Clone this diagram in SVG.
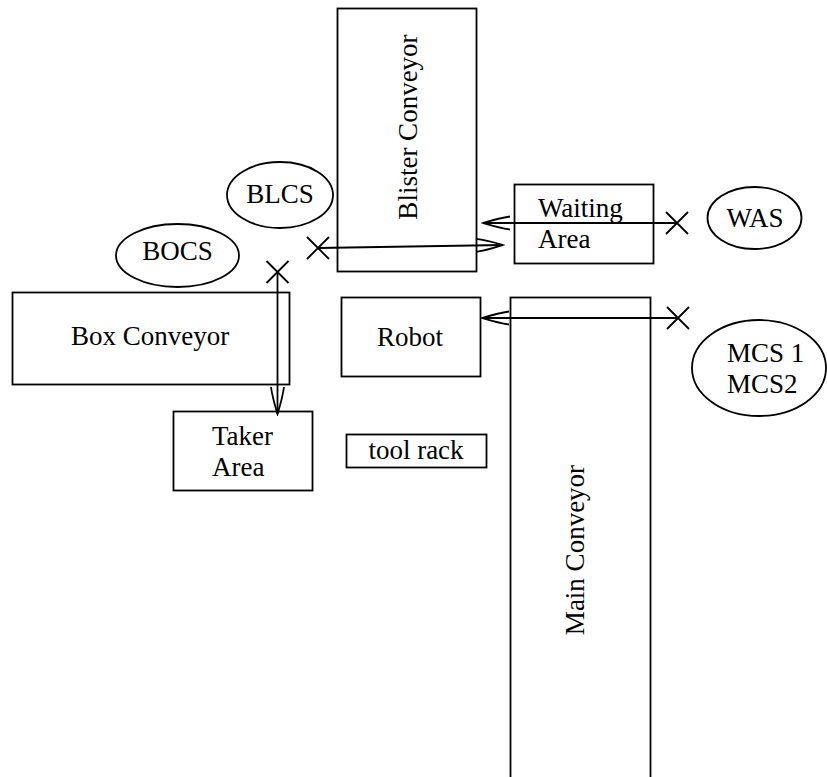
<svg xmlns="http://www.w3.org/2000/svg" width="827" height="777" viewBox="0 0 827 777">
  <style>
    .box { fill: none; stroke: #000; stroke-width: 1.8; }
    .sensor { fill: none; stroke: #000; stroke-width: 1.8; }
    .lbl { font-family: "Liberation Serif", "Times New Roman", serif; font-size: 27px; fill: #000; }
    .mid { text-anchor: middle; }
    .wire { fill: none; stroke: #000; stroke-width: 1.8; }
    .cross { fill: none; stroke: #000; stroke-width: 1.8; }
  </style>
  <defs>
    <marker id="arrowTo" markerUnits="userSpaceOnUse" markerWidth="32" markerHeight="18" refX="30" refY="9" orient="auto">
      <path d="M 3 2.5 C 14 4 25 7.5 30 9 C 25 10.5 14 14 3 15.5" fill="none" stroke="#000" stroke-width="1.8"/>
    </marker>
  </defs>

  <rect width="827" height="777" fill="#fff"/>

  <!-- conveyors and work areas -->
  <g id="blister-conveyor">
    <rect class="box" x="337.5" y="8.5" width="139" height="263"/>
    <text class="lbl mid" x="417" y="127" transform="rotate(-90 417 127)">Blister Conveyor</text>
  </g>
  <g id="waiting-area">
    <rect class="box" x="514.5" y="184.5" width="139" height="79"/>
    <text class="lbl" x="538" y="217">Waiting</text>
    <text class="lbl" x="538" y="248">Area</text>
  </g>
  <g id="box-conveyor">
    <rect class="box" x="12.5" y="292.5" width="277" height="92"/>
    <text class="lbl mid" x="150" y="345">Box Conveyor</text>
  </g>
  <g id="taker-area">
    <rect class="box" x="173.5" y="411.5" width="139" height="79"/>
    <text class="lbl" x="212" y="445">Taker</text>
    <text class="lbl" x="212" y="476">Area</text>
  </g>
  <g id="robot">
    <rect class="box" x="341.5" y="297.5" width="139" height="79"/>
    <text class="lbl mid" x="410" y="346">Robot</text>
  </g>
  <g id="main-conveyor">
    <rect class="box" x="510.5" y="297.5" width="140" height="500"/>
    <text class="lbl mid" x="584" y="550" transform="rotate(-90 584 550)">Main Conveyor</text>
  </g>
  <g id="tool-rack">
    <rect class="box" x="346.5" y="434.5" width="140" height="33"/>
    <text class="lbl mid" x="416" y="459">tool rack</text>
  </g>

  <!-- sensors -->
  <g id="blcs">
    <ellipse class="sensor" cx="280" cy="195" rx="53" ry="33"/>
    <text class="lbl mid" x="280" y="203">BLCS</text>
  </g>
  <g id="bocs">
    <ellipse class="sensor" cx="177.5" cy="255.5" rx="61.5" ry="31.5"/>
    <text class="lbl mid" x="177.5" y="260">BOCS</text>
  </g>
  <g id="was">
    <ellipse class="sensor" cx="754.5" cy="218" rx="47" ry="31"/>
    <text class="lbl mid" x="755" y="227">WAS</text>
  </g>
  <g id="mcs">
    <ellipse class="sensor" cx="759" cy="368" rx="67" ry="48"/>
    <text class="lbl" x="727" y="362">MCS 1</text>
    <text class="lbl" x="727" y="393">MCS2</text>
  </g>

  <!-- signal connectors: cross marks the sensor end, arrow the target -->
  <g id="connectors">
    <path class="wire" d="M 318 248 L 503 245" marker-end="url(#arrowTo)"/>
    <path class="cross" d="M 307 237 L 329 259 M 307 259 L 329 237"/>

    <path class="wire" d="M 677 223 L 483 223" marker-end="url(#arrowTo)"/>
    <path class="cross" d="M 666 212 L 688 234 M 666 234 L 688 212"/>

    <path class="wire" d="M 678 318 L 482 318" marker-end="url(#arrowTo)"/>
    <path class="cross" d="M 667 307 L 689 329 M 667 329 L 689 307"/>

    <path class="wire" d="M 277.5 272 L 277.5 414" marker-end="url(#arrowTo)"/>
    <path class="cross" d="M 266.5 261 L 288.5 283 M 266.5 283 L 288.5 261"/>
  </g>
</svg>
